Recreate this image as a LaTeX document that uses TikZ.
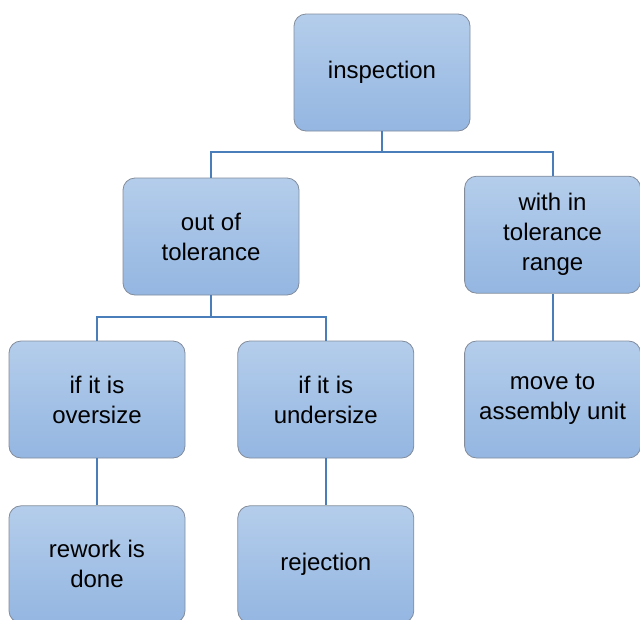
\documentclass[tikz,border=0pt]{standalone}
\usepackage{fontspec}
\setmainfont{Liberation Sans}
\usepackage{tikz}
\usetikzlibrary{positioning}

\definecolor{boxtop}{RGB}{180,205,235}
\definecolor{boxbot}{RGB}{148,182,225}
\definecolor{boxline}{RGB}{130,140,155}
\definecolor{linkblue}{RGB}{74,126,187}

\begin{document}
\begin{tikzpicture}[
    x=1pt, y=1pt,
    node distance=47pt and 52pt,
    box/.style={draw=boxline, line width=0.8pt, rounded corners=12pt, top color=boxtop, bottom color=boxbot,
        minimum width=176pt, minimum height=117pt, align=center, inner sep=0pt,
        font=\fontsize{24}{30}\selectfont},
    link/.style={draw=linkblue, line width=2pt}
]
\useasboundingbox (0,0) rectangle (640,-619);
\clip (0,0) rectangle (640,-619);

% tree of boxes
\node[box] (insp) at (382,-72.5) {inspection};
\node[box] (over) at (97,-399.5) {if it is\\oversize};
\node[box, right=of over] (under) {if it is\\undersize};
\node[box, right=50pt of under] (move) {move to\\assembly unit};
\node[box, above=of move] (within) {with in\\tolerance\\range};
\node[box] (outtol) at (211,-236.5) {out of\\tolerance};
\node[box, below=of over] (rework) {rework is\\done};
\node[box, below=of under] (reject) {rejection};

% connectors
\draw[link] (insp.south) -- ++(0,-21) coordinate (j1);
\draw[link] (outtol.north) |- (j1) -| (within.north);
\draw[link] (outtol.south) -- ++(0,-22) coordinate (j2);
\draw[link] (over.north) |- (j2) -| (under.north);
\draw[link] (over) -- (rework);
\draw[link] (under) -- (reject);
\draw[link] (within) -- (move);
\end{tikzpicture}
\end{document}
